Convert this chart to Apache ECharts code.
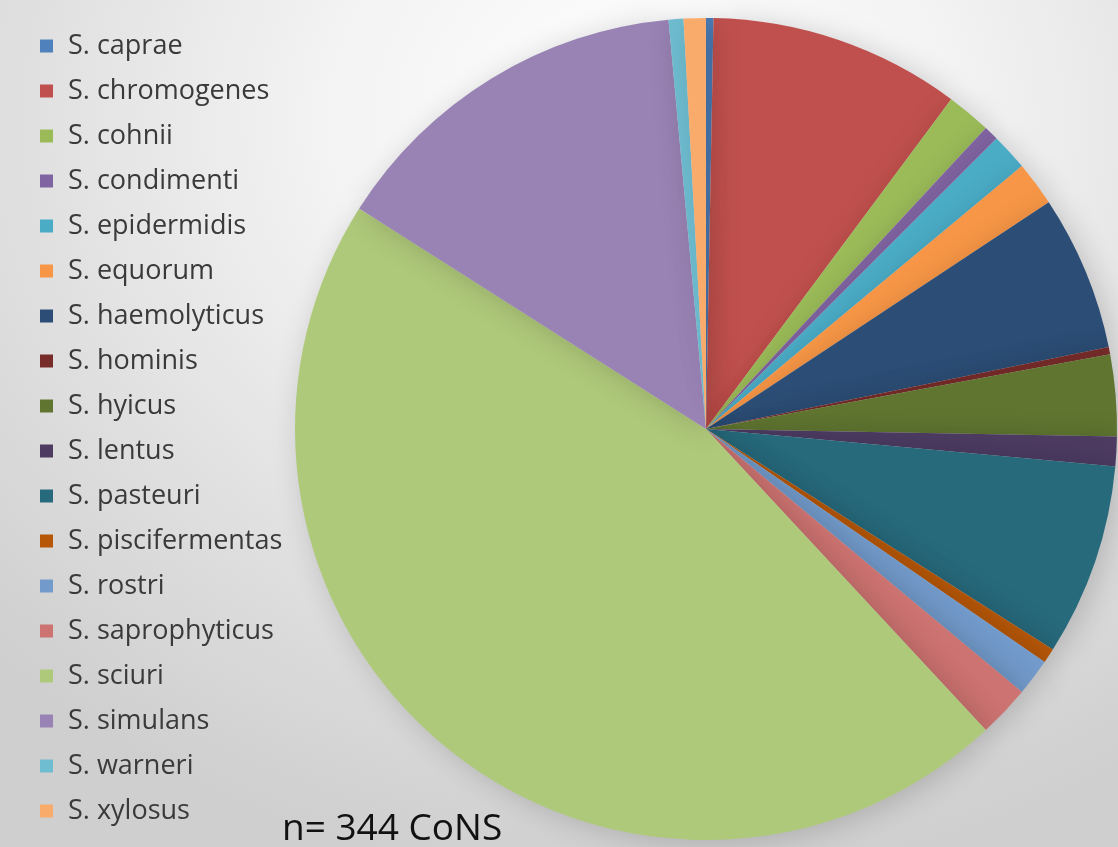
<!DOCTYPE html>
<html>
<head>
<meta charset="utf-8">
<script src="https://cdn.jsdelivr.net/npm/echarts@6/dist/echarts.min.js"></script>
<style>
  html, body { margin: 0; padding: 0; }
  #chart {
    width: 1118px; height: 847px;
    background: radial-gradient(ellipse 900px 760px at 640px 120px, #ffffff 0%, #f3f3f3 35%, #dfdfdf 70%, #cfcfcf 100%);
  }
</style>
</head>
<body>
<div id="chart"></div>
<script>
// Coagulase-negative staphylococci species, isolate counts (n = 344)
const species = [
  'S. caprae', 'S. chromogenes', 'S. cohnii', 'S. condimenti', 'S. epidermidis',
  'S. equorum', 'S. haemolyticus', 'S. hominis', 'S. hyicus', 'S. lentus',
  'S. pasteuri', 'S. piscifermentas', 'S. rostri', 'S. saprophyticus', 'S. sciuri',
  'S. simulans', 'S. warneri', 'S. xylosus'
];
const counts = [1, 34, 6, 2, 5, 6, 21, 1, 11, 4, 26, 2, 5, 7, 158, 50, 2, 3];
const colors = [
  '#4F81BD', '#C0504D', '#9BBB59', '#8064A2', '#4BACC6',
  '#F79646', '#2C4D75', '#772C2A', '#5F7530', '#4D3B62',
  '#276A7C', '#B65708', '#729ACA', '#CD7371', '#AFC97A',
  '#9983B5', '#6FBDD1', '#F9AB6B'
];
const totalLabel = 'n= 344 CoNS';

const chart = echarts.init(document.getElementById('chart'), null, { renderer: 'canvas' });
chart.setOption({
  animation: false,
  color: colors,
  legend: {
    orient: 'vertical',
    left: 40,
    top: 32,
    padding: 0,
    icon: 'rect',
    itemWidth: 13,
    itemHeight: 13,
    itemGap: 17,
    textStyle: {
      fontFamily: 'Open Sans',
      fontSize: 27,
      lineHeight: 28,
      color: '#3a3a3a',
      padding: [0, 0, 0, 10]
    },
    data: species
  },
  graphic: [{
    type: 'text',
    left: 282,
    top: 811,
    style: {
      text: totalLabel,
      fontFamily: 'Open Sans',
      fontSize: 37,
      fill: '#111111'
    }
  }],
  series: [{
    type: 'pie',
    center: [706, 429],
    radius: 411,
    startAngle: 90,
    clockwise: true,
    label: { show: false },
    labelLine: { show: false },
    emphasis: { disabled: true },
    itemStyle: {
      borderWidth: 0,
      shadowBlur: 30,
      shadowColor: 'rgba(0,0,0,0.18)',
      shadowOffsetX: 6,
      shadowOffsetY: 4
    },
    data: species.map((name, i) => ({ name, value: counts[i] }))
  }]
});
</script>
</body>
</html>
